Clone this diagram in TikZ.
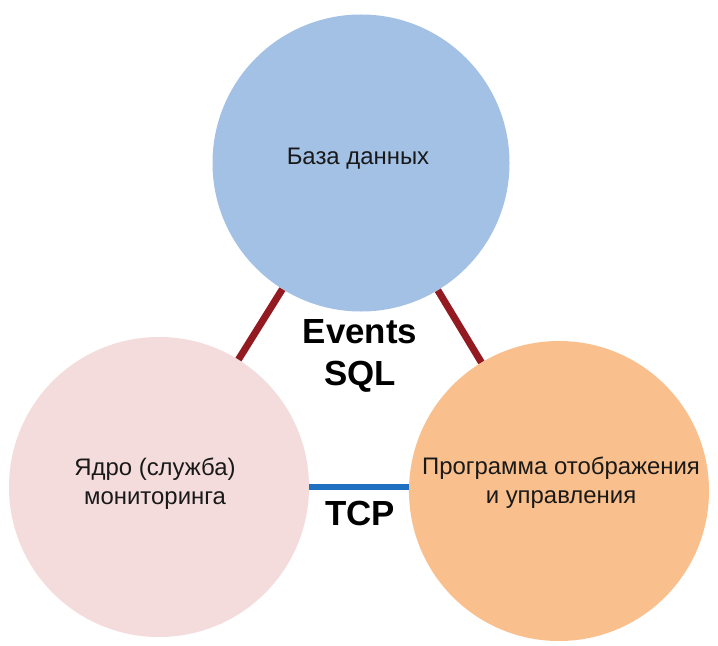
\documentclass[tikz,border=0pt]{standalone}
\usepackage{fontspec}
\setmainfont{Liberation Sans}
\usepackage{tikz}
\usetikzlibrary{shapes}

\definecolor{dbblue}{HTML}{A3C1E5}
\definecolor{corepink}{HTML}{F3DCDB}
\definecolor{guiorange}{HTML}{F9BF8C}
\definecolor{sqlred}{HTML}{921A20}
\definecolor{tcpblue}{HTML}{1F70C1}

\tikzset{
  ring/.style={circle,inner sep=0pt,minimum size=#1},
  lbl/.style={align=center,text=black!90,font=\fontsize{24}{29}\selectfont},
  tag/.style={font=\fontsize{35}{38}\selectfont\bfseries},
  sqlline/.style={line width=7bp,sqlred},
  tcpline/.style={line width=6bp,tcpblue}
}

\begin{document}
\begin{tikzpicture}[x=1bp,y=-1bp]
\useasboundingbox[fill=white] (0,0) rectangle (718,646);
\node[ring=297bp,fill=dbblue] (db) at (361,163) {};
\node[ring=300bp,fill=corepink] (core) at (159,487) {};
\node[ring=300bp,fill=guiorange] (gui) at (559,491) {};
\draw[sqlline] (db) -- (core);
\draw[sqlline] (db) -- (gui);
\draw[tcpline] (core.east) -- (core.east -| gui.west);
\node[lbl] (dbtext) at (358,159) {База данных};
\node[lbl] (coretext) at (155,484) {Ядро (служба)\\мониторинга};
\node[lbl] (guitext) at (561,483) {Программа отображения\\и управления};
\node[tag] (events) at (360,332) {Events};
\node[tag] (sql) at (360,377) {SQL};
\node[tag] (tcp) at (360,513) {TCP};
\end{tikzpicture}
\end{document}
